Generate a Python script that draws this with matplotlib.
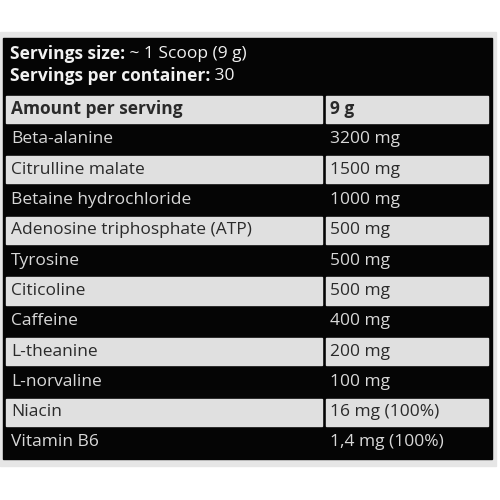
import matplotlib
matplotlib.use('Agg')
from matplotlib import pyplot as plt
from matplotlib.patches import Rectangle

header = ['Servings size:', 'Servings per container:']
header_val = [' ~ 1 Scoop (9 g)', ' 30']
names = ['Amount per serving', 'Beta-alanine', 'Citrulline malate', 'Betaine hydrochloride',
         'Adenosine triphosphate (ATP)', 'Tyrosine', 'Citicoline', 'Caffeine', 'L-theanine',
         'L-norvaline', 'Niacin', 'Vitamin B6']
amounts = ['9 g', '3200 mg', '1500 mg', '1000 mg', '500 mg', '500 mg', '500 mg', '400 mg',
           '200 mg', '100 mg', '16 mg (100%)', '1,4 mg (100%)']

fig = plt.figure(figsize=(5, 5), dpi=100)
ax = fig.add_axes([0, 0, 1, 1])
ax.set_xlim(0, 500)
ax.set_ylim(500, 0)
ax.axis('off')

font = 'Open Sans'
fs = 12.5
ax.add_patch(Rectangle((0, 32), 496, 434, color='#e6e6e6'))
ax.add_patch(Rectangle((3, 38), 489, 421, color='#050505'))

# header lines
for i, (hd, v) in enumerate(zip(header, header_val)):
    y = 54 + i * 22
    t = ax.text(10, y, hd, color='#f2f2f2', fontsize=fs, fontweight='bold', family=font, va='center')
    fig.canvas.draw()
    bb = t.get_window_extent().transformed(ax.transData.inverted())
    ax.text(bb.x1, y, v, color='#f2f2f2', fontsize=fs, family=font, va='center')

top = 94
h = 30.3
for i, (n, a) in enumerate(zip(names, amounts)):
    y0 = top + i * h
    gray = i % 2 == 0
    if gray:
        ax.add_patch(Rectangle((6, y0 + 1.5), 316, h - 3, color='#e0e0e0'))
        ax.add_patch(Rectangle((326, y0 + 1.5), 162, h - 3, color='#e0e0e0'))
        col = '#2a2a2a'
    else:
        col = '#d8d8d8'
    w = 'bold' if i == 0 else 'normal'
    ax.text(11, y0 + h / 2, n, color=col, fontsize=fs, family=font, fontweight=w, va='center')
    ax.text(330, y0 + h / 2, a, color=col, fontsize=fs, family=font, fontweight=w, va='center')

fig.savefig('out.png', dpi=100)
